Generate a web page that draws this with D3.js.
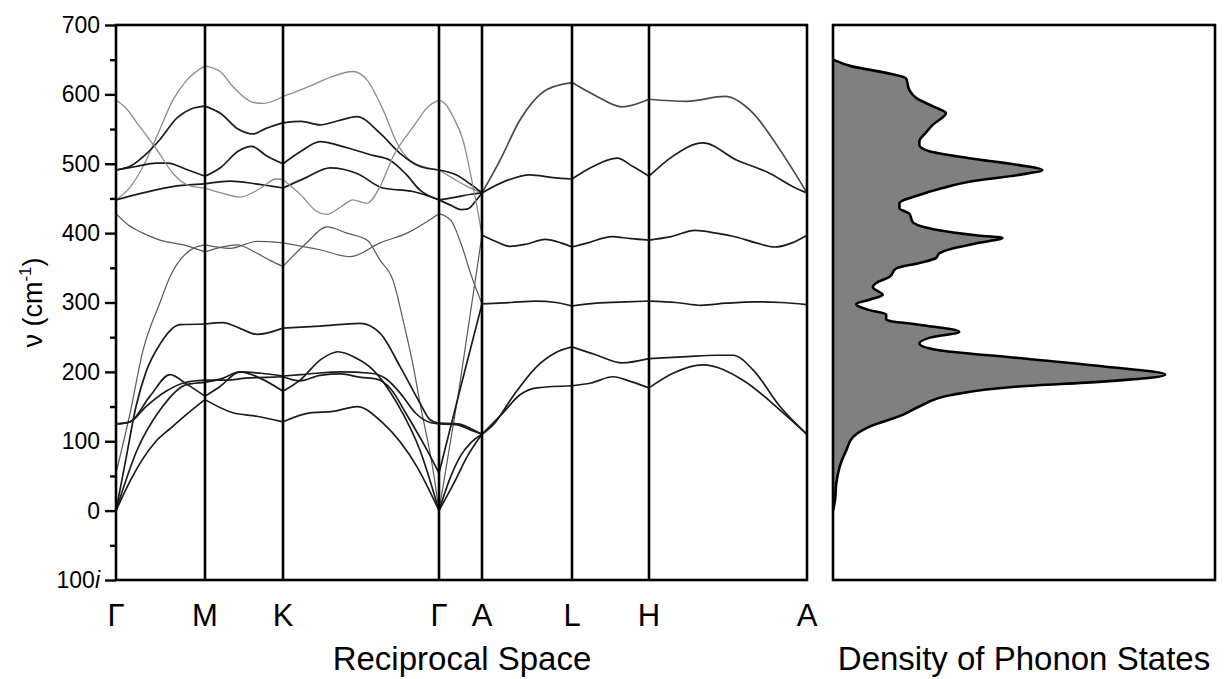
<!DOCTYPE html>
<html>
<head>
<meta charset="utf-8">
<script src="https://cdn.jsdelivr.net/npm/d3@7"></script>
<style>
  html, body { margin: 0; padding: 0; background: #fff; }
  svg { display: block; font-family: "Liberation Sans", Arial, sans-serif; }
</style>
</head>
<body>
<svg id="chart" width="1226" height="679"></svg>
<script>
// ---- high symmetry path (k = path distance, arbitrary units) ----
const symLabels = ['Γ', 'M', 'K', 'Γ', 'A', 'L', 'H', 'A'];
const symPos = [0, 89, 167, 323, 366, 456, 533, 691];

// ---- frequency axis ----
const yMajor = [-100, 0, 100, 200, 300, 400, 500, 600, 700];
const yMinor = [-50, 50, 150, 250, 350, 450, 550, 650];

// ---- phonon bands, [k, nu] pairs ----
// Γ - M - K - Γ
const bandsGMKG = [
  [[0,448],[14,466],[27,496],[41,540],[57,592],[71,621],[89,641],[105,632],[117,611],[136,589],[147,587],[167,597],[194,612],[215,625],[237,633],[251,621],[267,578],[281,530],[297,502],[323,491]],
  [[0,491],[15,497],[27,510],[44,535],[61,566],[75,579],[89,583],[105,572],[122,550],[137,543],[150,551],[167,559],[185,561],[204,556],[222,562],[241,568],[264,544],[284,515],[304,496],[323,491]],
  [[0,491],[20,496],[40,501],[52,501],[70,492],[89,482],[105,495],[122,518],[136,525],[150,512],[167,500],[185,518],[204,532],[231,523],[257,512],[274,505],[290,485],[304,462],[323,448]],
  [[0,448],[27,458],[61,468],[89,471],[114,475],[140,471],[167,465],[190,480],[214,494],[241,486],[267,465],[297,460],[323,448]],
  [[0,592],[10,580],[24,553],[41,520],[57,486],[74,468],[89,465],[105,458],[124,452],[145,465],[160,478],[167,477],[185,455],[200,432],[211,427],[225,438],[237,448],[251,443],[264,467],[277,510],[297,553],[312,582],[323,592]],
  [[0,428],[12,412],[27,400],[44,390],[70,382],[89,373],[121,383],[141,371],[155,360],[167,352],[190,385],[211,409],[231,400],[251,390],[264,361],[277,332],[287,275],[297,210],[304,155],[317,59],[323,0]],
  [[0,54],[14,140],[27,231],[44,300],[54,337],[77,378],[89,383],[114,378],[141,388],[167,386],[204,376],[234,366],[264,386],[291,400],[323,428]],
  [[0,0],[10,75],[20,150],[30,200],[44,240],[64,268],[89,269],[107,271],[125,262],[141,254],[167,263],[204,266],[244,270],[264,256],[284,208],[304,155],[314,131],[323,126]],
  [[0,125],[14,128],[34,165],[54,196],[71,182],[89,165],[104,179],[124,200],[144,191],[167,172],[184,188],[205,218],[222,229],[240,220],[257,203],[281,155],[304,87],[323,0]],
  [[0,0],[21,87],[44,145],[71,182],[89,185],[105,190],[124,200],[145,198],[167,194],[185,196],[200,198],[224,200],[255,198],[270,190],[285,168],[300,140],[314,127],[323,125]],
  [[0,125],[14,128],[30,150],[50,172],[70,185],[89,188],[110,188],[130,191],[150,192],[167,193],[184,187],[204,195],[225,197],[245,192],[260,190],[275,175],[290,140],[310,90],[323,54]],
  [[0,0],[15,45],[27,75],[40,100],[54,118],[70,138],[89,160],[117,141],[141,136],[167,128],[194,141],[217,143],[241,150],[267,126],[301,63],[323,0]]
];

// Γ - A
const bandsGA = [
  [[323,491],[337,479],[350,468],[366,458]],
  [[323,491],[340,484],[355,470],[366,458]],
  [[323,448],[335,440],[345,434],[352,435],[360,447],[366,458]],
  [[323,448],[340,452],[355,456],[366,458]],
  [[323,592],[330,585],[337,568],[347,534],[357,467],[362,430],[366,397]],
  [[323,0],[342,165],[366,397]],
  [[323,428],[335,418],[345,385],[355,340],[366,298]],
  [[323,126],[342,125],[355,118],[366,110]],
  [[323,0],[335,50],[345,80],[355,98],[366,110]],
  [[323,125],[340,124],[355,116],[366,110]],
  [[323,54],[345,180],[366,298]],
  [[323,0],[338,40],[352,80],[366,110]]
];

// A - L - H - A (doubly degenerate branches)
const bandsALHA = [
  [[366,458],[384,505],[404,563],[431,607],[456,617],[481,597],[506,582],[533,593],[571,590],[609,597],[637,573],[664,520],[691,458]],
  [[366,458],[391,476],[414,484],[437,480],[456,478],[477,496],[501,508],[517,496],[533,482],[557,511],[587,530],[621,505],[654,486],[677,467],[691,458]],
  [[366,397],[380,388],[394,381],[410,384],[429,391],[445,386],[456,380],[472,386],[496,395],[515,392],[533,390],[555,395],[579,404],[600,400],[621,394],[640,386],[659,380],[676,386],[691,397]],
  [[366,298],[395,300],[420,302],[440,300],[456,295],[480,299],[510,301],[533,302],[560,300],[585,296],[610,299],[640,301],[665,300],[691,297]],
  [[366,110],[378,125],[397,165],[421,208],[440,228],[456,236],[481,224],[506,213],[533,219],[571,222],[600,224],[617,224],[637,203],[664,150],[691,110]],
  [[366,110],[387,141],[404,167],[421,177],[456,180],[475,184],[497,193],[515,186],[533,177],[557,198],[587,210],[627,188],[664,145],[691,110]]
];

// ---- density of phonon states (arbitrary units) ----
const dosFreq = [650,640,631,623,606,595,583,573,556,545,532,527,518,508,498,491,484,474,465,455,443,436,428,416,405,397,393,386,378,371,364,357,349,337,328,322,311,304,298,289,283,275,268,258,249,241,232,220,208,196,186,179,167,150,138,121,106,87,63,40,15,0];
const dosVal  = [0,0.06,0.16,0.22,0.23,0.25,0.30,0.34,0.30,0.28,0.26,0.26,0.29,0.41,0.56,0.63,0.56,0.41,0.33,0.26,0.20,0.20,0.23,0.24,0.31,0.43,0.51,0.44,0.36,0.32,0.31,0.26,0.19,0.17,0.13,0.12,0.15,0.11,0.07,0.11,0.16,0.16,0.26,0.38,0.29,0.26,0.31,0.56,0.81,1.00,0.81,0.56,0.36,0.26,0.21,0.11,0.06,0.04,0.02,0.01,0.006,0];

// ============== layout ==============
const svg = d3.select('#chart');
const panel = { left: 116, right: 807, top: 25, bottom: 580 };
const dosPanel = { left: 833, right: 1215, top: 25, bottom: 580 };
const fontFam = '"Liberation Sans", Arial, sans-serif';

const x = d3.scaleLinear()
  .domain([symPos[0], symPos[symPos.length - 1]])
  .range([panel.left, panel.right]);

const y = d3.scaleLinear()
  .domain([-100, 700])
  .range([panel.bottom, panel.top]);

const xDos = d3.scaleLinear()
  .domain([0, 1.15])
  .range([dosPanel.left, dosPanel.right]);

svg.append('clipPath').attr('id', 'bandClip')
  .append('rect')
  .attr('x', panel.left).attr('y', panel.top)
  .attr('width', panel.right - panel.left)
  .attr('height', panel.bottom - panel.top);

// ============== bands ==============
const line = d3.line()
  .x(d => x(d[0]))
  .y(d => y(d[1]))
  .curve(d3.curveMonotoneX);

// split a band at the high symmetry points so kinks stay sharp
function splitAtSym(points) {
  const segs = [];
  let cur = [points[0]];
  for (let i = 1; i < points.length; i++) {
    cur.push(points[i]);
    if (i < points.length - 1 && symPos.includes(points[i][0])) {
      segs.push(cur);
      cur = [points[i]];
    }
  }
  segs.push(cur);
  return segs;
}

// light grey for the sparsely sampled branches, as in the figure
const toneOf = i => (i === 0 || i === 4) ? '#8c8c8c' : (i === 5 || i === 6) ? '#5a5a5a' : '#1c1c1c';
const widthOf = i => (i === 0 || i === 4) ? 1.3 : (i === 5 || i === 6) ? 1.2 : 1.7;

const gBands = svg.append('g').attr('clip-path', 'url(#bandClip)');

[bandsGMKG, bandsGA].forEach(set => {
  set.forEach((band, i) => {
    splitAtSym(band).forEach(seg => {
      gBands.append('path')
        .attr('d', line(seg))
        .attr('fill', 'none')
        .attr('stroke', toneOf(i))
        .attr('stroke-width', widthOf(i));
    });
  });
});

bandsALHA.forEach((band, i) => {
  splitAtSym(band).forEach(seg => {
    gBands.append('path')
      .attr('d', line(seg))
      .attr('fill', 'none')
      .attr('stroke', i === 0 ? '#4a4a4a' : '#1c1c1c')
      .attr('stroke-width', 1.7);
  });
});

// vertical lines at high symmetry points
svg.selectAll('.symline')
  .data(symPos.slice(1, -1))
  .enter()
  .append('line')
  .attr('x1', d => x(d)).attr('x2', d => x(d))
  .attr('y1', panel.top).attr('y2', panel.bottom)
  .attr('stroke', '#000')
  .attr('stroke-width', 2.6);

// frame
svg.append('rect')
  .attr('x', panel.left).attr('y', panel.top)
  .attr('width', panel.right - panel.left)
  .attr('height', panel.bottom - panel.top)
  .attr('fill', 'none').attr('stroke', '#000').attr('stroke-width', 2.6);

// ============== y axis ==============
const yAxisMajor = svg.append('g')
  .attr('transform', `translate(${panel.left},0)`)
  .call(d3.axisLeft(y).tickValues(yMajor).tickSize(11).tickPadding(5)
    .tickFormat(d => d < 0 ? String(-d) : String(d)));
yAxisMajor.select('.domain').remove();
yAxisMajor.selectAll('.tick line').attr('stroke', '#000').attr('stroke-width', 2.4);
yAxisMajor.selectAll('.tick text')
  .attr('font-family', fontFam)
  .attr('font-size', 23)
  .attr('fill', '#000')
  .each(function(d) {
    if (d < 0) {
      d3.select(this).append('tspan').attr('font-style', 'italic').text('i');
    }
  });

const yAxisMinor = svg.append('g')
  .attr('transform', `translate(${panel.left},0)`)
  .call(d3.axisLeft(y).tickValues(yMinor).tickSize(6).tickFormat(''));
yAxisMinor.select('.domain').remove();
yAxisMinor.selectAll('.tick line').attr('stroke', '#000').attr('stroke-width', 2.4);

// y title
const yTitle = svg.append('text')
  .attr('transform', `translate(42,${(panel.top + panel.bottom) / 2}) rotate(-90)`)
  .attr('text-anchor', 'middle')
  .attr('font-family', fontFam)
  .attr('font-size', 27)
  .attr('fill', '#000');
yTitle.append('tspan').text('ν (cm');
yTitle.append('tspan').attr('font-size', 17).attr('dy', -11).text('-1');
yTitle.append('tspan').attr('dy', 11).text(')');

// high symmetry labels
svg.selectAll('.symlabel')
  .data(symLabels)
  .enter()
  .append('text')
  .attr('x', (d, i) => x(symPos[i]))
  .attr('y', 626)
  .attr('text-anchor', 'middle')
  .attr('font-family', fontFam)
  .attr('font-size', 31)
  .attr('fill', '#000')
  .text(d => d);

svg.append('text')
  .attr('x', 462).attr('y', 670)
  .attr('text-anchor', 'middle')
  .attr('font-family', fontFam)
  .attr('font-size', 33)
  .attr('fill', '#000')
  .text('Reciprocal Space');

// ============== DOS panel ==============
const dosData = dosFreq.map((f, i) => ({ f, v: dosVal[i] }));

const area = d3.area()
  .y(d => y(d.f))
  .x0(xDos(0))
  .x1(d => xDos(d.v))
  .curve(d3.curveMonotoneY);

const dosLine = d3.line()
  .y(d => y(d.f))
  .x(d => xDos(d.v))
  .curve(d3.curveMonotoneY);

svg.append('path')
  .datum(dosData)
  .attr('d', area)
  .attr('fill', '#808080');

svg.append('path')
  .datum(dosData)
  .attr('d', dosLine)
  .attr('fill', 'none')
  .attr('stroke', '#000')
  .attr('stroke-width', 2.6);

svg.append('rect')
  .attr('x', dosPanel.left).attr('y', dosPanel.top)
  .attr('width', dosPanel.right - dosPanel.left)
  .attr('height', dosPanel.bottom - dosPanel.top)
  .attr('fill', 'none').attr('stroke', '#000').attr('stroke-width', 2.6);

svg.append('text')
  .attr('x', (dosPanel.left + dosPanel.right) / 2).attr('y', 670)
  .attr('text-anchor', 'middle')
  .attr('font-family', fontFam)
  .attr('font-size', 33)
  .attr('fill', '#000')
  .text('Density of Phonon States');
</script>
</body>
</html>
